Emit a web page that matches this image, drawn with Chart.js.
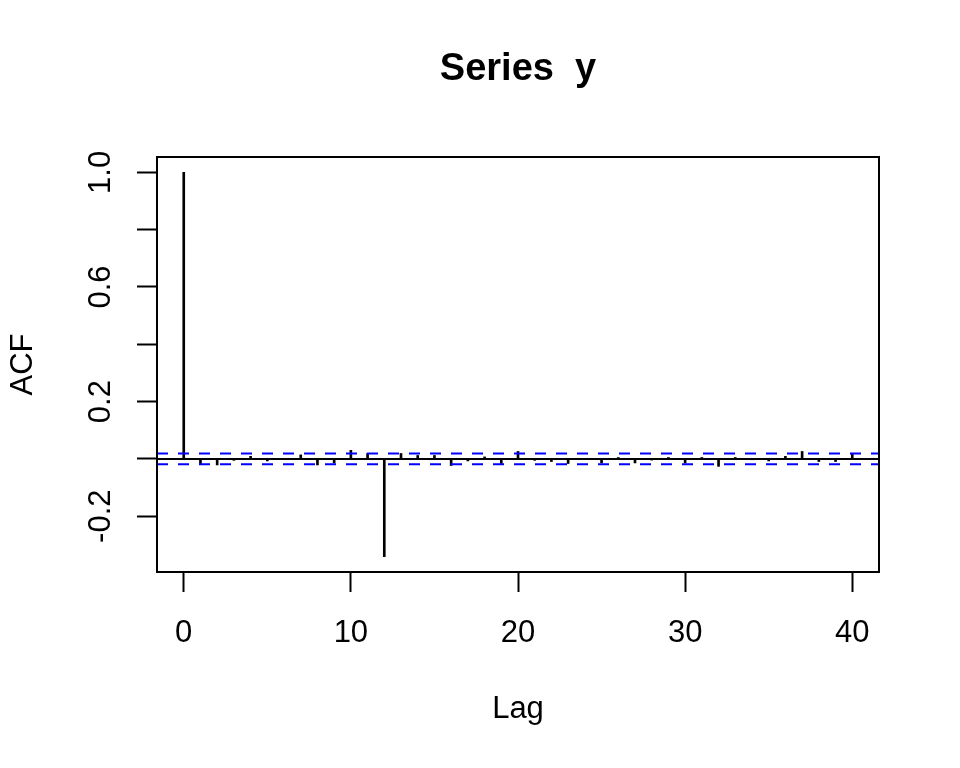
<!DOCTYPE html>
<html>
<head>
<meta charset="utf-8">
<script src="https://cdn.jsdelivr.net/npm/chart.js@4"></script>
<style>
  body { margin: 0; background: #fff; }
  #wrap { width: 960px; height: 768px; position: relative; }
</style>
</head>
<body>
<div id="wrap"><canvas id="acfChart"></canvas></div>
<script>
// lags and autocorrelations
var lags = [0, 1, 2, 3, 4, 5, 6, 7, 8, 9, 10, 11, 12, 13, 14, 15, 16, 17, 18, 19, 20,
            21, 22, 23, 24, 25, 26, 27, 28, 29, 30, 31, 32, 33, 34, 35, 36, 37, 38, 39, 40];
var acfValues = [1.0, -0.019, -0.021, -0.005, 0.009, -0.007, -0.002, 0.014, -0.021, -0.014, 0.030,
                 0.019, -0.341, 0.019, 0.012, 0.012, -0.023, -0.007, 0.007, -0.016, 0.026,
                 -0.005, -0.009, -0.016, -0.002, -0.014, 0.005, -0.014, -0.004, 0.005, -0.014,
                 0.005, -0.026, 0.005, -0.003, -0.007, 0.009, 0.026, -0.009, -0.009, 0.019];
var ciBound = 0.0186;
var xTicks = [0, 10, 20, 30, 40];
var yTicks = [-0.2, 0, 0.2, 0.4, 0.6, 0.8, 1.0];
var yLabeled = [-0.2, 0.2, 0.6, 1.0];

var titleText = 'Series  y';
var xTitle = 'Lag';
var yTitle = 'ACF';

document.addEventListener('DOMContentLoaded', function() {
    var ctx = document.getElementById('acfChart').getContext('2d');

    // R style axis ranges: data range padded by 4%
    var xMin = Math.min.apply(null, lags), xMax = Math.max.apply(null, lags);
    var xPad = (xMax - xMin) * 0.04;
    var yLo = Math.min(Math.min.apply(null, acfValues), -ciBound);
    var yHi = Math.max(Math.max.apply(null, acfValues), ciBound);
    var yPad = (yHi - yLo) * 0.04;

    var bars = lags.map(function(l, i) { return { x: l, y: acfValues[i] }; });
    var hline = function(v) {
        return [{ x: xMin - xPad, y: v }, { x: xMax + xPad, y: v }];
    };

    var font = "'Liberation Sans', Arial, Helvetica, sans-serif";

    var decorations = {
        id: 'decorations',
        afterDraw: function(chart) {
            var c = chart.ctx, a = chart.chartArea;
            c.save();
            c.strokeStyle = '#000';
            c.lineWidth = 2;
            c.strokeRect(a.left, a.top, a.right - a.left, a.bottom - a.top);
            c.fillStyle = '#000';
            c.textAlign = 'center';
            c.textBaseline = 'middle';
            c.font = 'bold 38px ' + font;
            c.fillText(titleText, (a.left + a.right) / 2, 70);
            c.font = '31px ' + font;
            c.fillText(xTitle, (a.left + a.right) / 2, 709);
            c.translate(23, (a.top + a.bottom) / 2);
            c.rotate(-Math.PI / 2);
            c.fillText(yTitle, 0, 0);
            c.restore();
        }
    };

    new Chart(ctx, {
        type: 'bar',
        data: {
            datasets: [
                {
                    type: 'line',
                    data: hline(ciBound),
                    borderColor: '#0000FF',
                    borderWidth: 2,
                    borderDash: [11, 10],
                    pointRadius: 0,
                    order: 1
                },
                {
                    type: 'line',
                    data: hline(-ciBound),
                    borderColor: '#0000FF',
                    borderWidth: 2,
                    borderDash: [11, 10],
                    pointRadius: 0,
                    order: 1
                },
                {
                    type: 'line',
                    data: hline(0),
                    borderColor: '#000000',
                    borderWidth: 2,
                    pointRadius: 0,
                    order: 2
                },
                {
                    type: 'bar',
                    data: bars,
                    backgroundColor: '#000000',
                    borderWidth: 0,
                    barThickness: 2,
                    order: 3
                }
            ]
        },
        options: {
            responsive: true,
            maintainAspectRatio: false,
            animation: false,
            layout: { padding: { left: 0, right: 81, top: 157, bottom: 0 } },
            plugins: {
                legend: { display: false },
                tooltip: { enabled: false },
                title: { display: false }
            },
            scales: {
                x: {
                    type: 'linear',
                    offset: false,
                    min: xMin - xPad,
                    max: xMax + xPad,
                    afterBuildTicks: function(axis) {
                        axis.ticks = xTicks.map(function(v) { return { value: v }; });
                    },
                    afterFit: function(axis) { axis.height = 196; },
                    grid: { offset: false, drawOnChartArea: false, drawTicks: true, tickLength: 20, tickColor: '#000', tickWidth: 2 },
                    border: { display: false },
                    ticks: {
                        color: '#000',
                        font: { size: 31, family: font },
                        padding: 23,
                        maxRotation: 0,
                        autoSkip: false
                    }
                },
                y: {
                    min: yLo - yPad,
                    max: yHi + yPad,
                    afterBuildTicks: function(axis) {
                        axis.ticks = yTicks.map(function(v) { return { value: v }; });
                    },
                    afterFit: function(axis) { axis.width = 157; },
                    grid: { drawOnChartArea: false, drawTicks: true, tickLength: 20, tickColor: '#000', tickWidth: 2 },
                    border: { display: false },
                    ticks: {
                        color: '#000',
                        font: { size: 31, family: font },
                        padding: 9,
                        minRotation: 90,
                        maxRotation: 90,
                        crossAlign: 'center',
                        autoSkip: false,
                        callback: function(v) {
                            var hit = yLabeled.some(function(t) { return Math.abs(t - v) < 1e-9; });
                            return hit ? v.toFixed(1) : '';
                        }
                    }
                }
            }
        },
        plugins: [decorations]
    });
});
</script>
</body>
</html>
